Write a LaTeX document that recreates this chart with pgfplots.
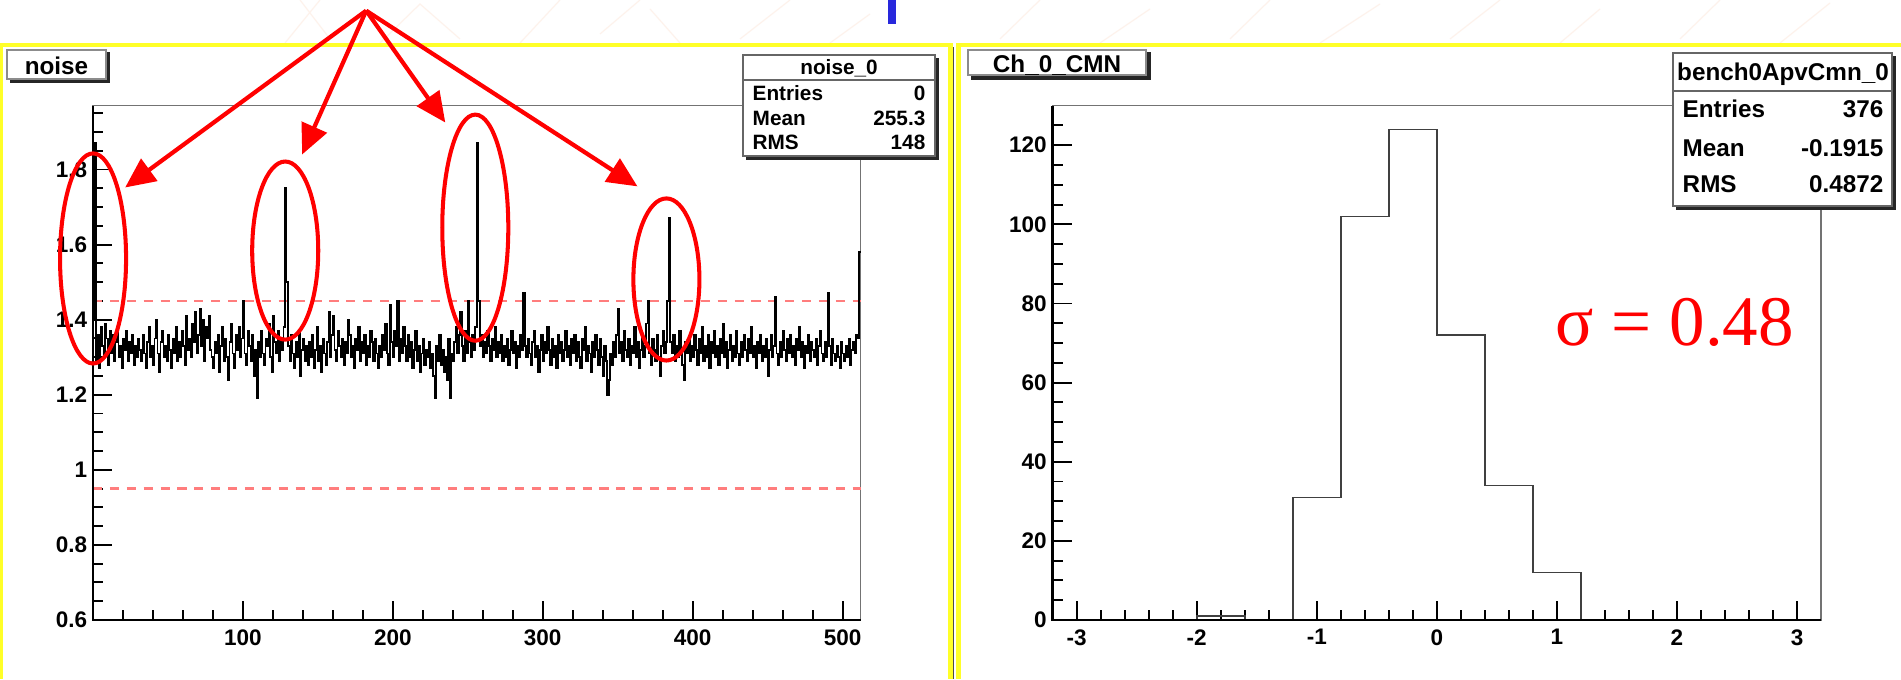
\documentclass[border=0pt]{standalone}
\usepackage{pgfplots}
\pgfplotsset{compat=1.18}
\usepackage{fontspec}
\setmainfont{Liberation Sans}
\newfontfamily\timesfont{Liberation Serif}
\usetikzlibrary{arrows.meta}

\definecolor{ylw}{RGB}{255,255,40}
\definecolor{dashred}{RGB}{255,125,125}
\definecolor{annred}{RGB}{255,0,0}
\definecolor{wmark}{RGB}{250,200,170}
\definecolor{titleblue}{RGB}{40,40,220}

\newcommand{\tickfont}{\bfseries\fontsize{6.4}{7}\selectfont}

\pgfplotsset{
  rootaxis/.style={
    scale only axis, anchor=south west, clip=false,
    axis line style={draw=black!55, line width=0.4pt},
    tick pos=left, tick align=inside,
    major tick length=0.19cm, minor tick length=0.1cm,
    tick style={black, line width=0.55pt},
    every tick label/.append style={font=\tickfont},
    /pgf/number format/assume math mode=true,
    yticklabel style={inner xsep=1.5pt},
    xticklabel style={inner ysep=2.5pt},
  },
}

\begin{document}
\begin{tikzpicture}[x=0.01cm,y=0.01cm]
\path[use as bounding box, fill=white] (0,0) rectangle (1901,679);

% faint slide background
\begin{scope}[draw=wmark, opacity=0.22, line width=0.35pt]
\draw (285,636) -- (320,679) (330,640) -- (300,679) (380,636) -- (420,675) -- (460,640);
\draw (520,636) -- (560,679) (600,645) -- (640,679) (680,636) -- (650,670) (740,640) -- (790,679);
\draw (830,636) -- (870,665) (1000,640) -- (1040,679) (1100,636) -- (1150,670) (1230,640) -- (1270,679);
\draw (1320,636) -- (1380,675) (1450,640) -- (1500,679) (1560,636) -- (1600,670) (1680,640) -- (1720,679) (1780,636) -- (1830,676);
\end{scope}
\fill[titleblue] (888,655) rectangle (896,679);

% yellow canvas frames
\fill[ylw] (0,632) rectangle (953,636);
\fill[ylw] (0,0) rectangle (3,636);
\fill[ylw] (948,0) rectangle (953,636);
\draw[black!70, line width=0.35pt] (953.5,0) -- (953.5,632);
\fill[ylw] (956,632) rectangle (1901,636);
\fill[ylw] (956,0) rectangle (961,636);

% ---------------- left: noise ----------------
\begin{axis}[rootaxis,
  at={(0.93cm,0.59cm)}, width=7.67cm, height=5.14cm,
  xmin=0, xmax=512, ymin=0.6, ymax=1.97,
  xtick={100,200,300,400,500}, xticklabels={100,200,300,400,500},
  minor xtick={20,40,60,80,120,140,160,180,220,240,260,280,320,340,360,380,420,440,460,480},
  ytick={0.6,0.8,1,1.2,1.4,1.6,1.8}, yticklabels={0.6,0.8,1,1.2,1.4,1.6,1.8},
  minor ytick={0.65,0.7,0.75,0.85,0.9,0.95,1.05,1.1,1.15,1.25,1.3,1.35,1.45,1.5,1.55,1.65,1.7,1.75,1.85,1.9,1.95},
]
\addplot[dashred, line width=0.65pt, dash pattern=on 2.6pt off 2.2pt] coordinates {(0,1.45) (512,1.45)};
\addplot[dashred, line width=0.65pt, dash pattern=on 2.6pt off 2.2pt] coordinates {(0,0.95) (512,0.95)};
\addplot[const plot, black, line width=0.5pt] coordinates {
(0,1.40)(1,1.87)(2,1.29)(3,1.36)(4,1.27)(5,1.38)(6,1.33)(7,1.30)(8,1.39)(9,1.35)(10,1.28)(11,1.37)(12,1.31)(13,1.36)(14,1.29)(15,1.34)
(16,1.38)(17,1.30)(18,1.33)(19,1.27)(20,1.35)(21,1.32)(22,1.37)(23,1.29)(24,1.34)(25,1.31)(26,1.36)(27,1.28)(28,1.33)(29,1.30)(30,1.35)(31,1.32)
(32,1.29)(33,1.36)(34,1.31)(35,1.27)(36,1.34)(37,1.38)(38,1.30)(39,1.33)(40,1.28)(41,1.35)(42,1.40)(43,1.31)(44,1.26)(45,1.34)(46,1.37)(47,1.30)
(48,1.33)(49,1.29)(50,1.36)(51,1.32)(52,1.27)(53,1.35)(54,1.31)(55,1.38)(56,1.29)(57,1.34)(58,1.30)(59,1.37)(60,1.33)(61,1.28)(62,1.41)(63,1.32)
(64,1.35)(65,1.30)(66,1.39)(67,1.34)(68,1.42)(69,1.31)(70,1.36)(71,1.43)(72,1.33)(73,1.40)(74,1.29)(75,1.38)(76,1.35)(77,1.41)(78,1.32)(79,1.30)
(80,1.27)(81,1.34)(82,1.31)(83,1.36)(84,1.26)(85,1.33)(86,1.38)(87,1.29)(88,1.35)(89,1.30)(90,1.24)(91,1.34)(92,1.39)(93,1.31)(94,1.27)(95,1.36)
(96,1.32)(97,1.38)(98,1.30)(99,1.35)(100,1.45)(101,1.31)(102,1.28)(103,1.37)(104,1.33)(105,1.29)(106,1.36)(107,1.25)(108,1.32)(109,1.19)(110,1.34)(111,1.30)
(112,1.37)(113,1.31)(114,1.28)(115,1.35)(116,1.33)(117,1.39)(118,1.30)(119,1.26)(120,1.41)(121,1.34)(122,1.31)(123,1.37)(124,1.29)(125,1.35)(126,1.32)(127,1.38)
(128,1.75)(129,1.50)(130,1.33)(131,1.29)(132,1.36)(133,1.31)(134,1.27)(135,1.34)(136,1.30)(137,1.37)(138,1.25)(139,1.32)(140,1.35)(141,1.29)(142,1.33)(143,1.28)
(144,1.34)(145,1.30)(146,1.36)(147,1.27)(148,1.32)(149,1.38)(150,1.29)(151,1.33)(152,1.26)(153,1.35)(154,1.31)(155,1.28)(156,1.34)(157,1.42)(158,1.30)(159,1.36)
(160,1.41)(161,1.32)(162,1.29)(163,1.37)(164,1.33)(165,1.30)(166,1.35)(167,1.28)(168,1.34)(169,1.31)(170,1.40)(171,1.36)(172,1.30)(173,1.33)(174,1.27)(175,1.35)
(176,1.32)(177,1.38)(178,1.29)(179,1.34)(180,1.31)(181,1.36)(182,1.28)(183,1.33)(184,1.30)(185,1.37)(186,1.34)(187,1.29)(188,1.35)(189,1.31)(190,1.27)(191,1.33)
(192,1.30)(193,1.36)(194,1.32)(195,1.39)(196,1.31)(197,1.28)(198,1.44)(199,1.34)(200,1.30)(201,1.37)(202,1.33)(203,1.45)(204,1.29)(205,1.35)(206,1.31)(207,1.38)
(208,1.33)(209,1.29)(210,1.36)(211,1.30)(212,1.34)(213,1.27)(214,1.32)(215,1.37)(216,1.29)(217,1.33)(218,1.26)(219,1.31)(220,1.35)(221,1.28)(222,1.32)(223,1.30)
(224,1.34)(225,1.27)(226,1.31)(227,1.25)(228,1.19)(229,1.33)(230,1.29)(231,1.36)(232,1.28)(233,1.32)(234,1.26)(235,1.30)(236,1.24)(237,1.35)(238,1.19)(239,1.31)
(240,1.29)(241,1.34)(242,1.38)(243,1.31)(244,1.36)(245,1.42)(246,1.33)(247,1.29)(248,1.37)(249,1.31)(250,1.45)(251,1.34)(252,1.30)(253,1.36)(254,1.32)(255,1.38)
(256,1.87)(257,1.45)(258,1.33)(259,1.36)(260,1.30)(261,1.34)(262,1.31)(263,1.37)(264,1.33)(265,1.29)(266,1.35)(267,1.32)(268,1.38)(269,1.30)(270,1.34)(271,1.31)
(272,1.36)(273,1.29)(274,1.33)(275,1.30)(276,1.35)(277,1.28)(278,1.32)(279,1.37)(280,1.31)(281,1.34)(282,1.27)(283,1.33)(284,1.30)(285,1.36)(286,1.32)(287,1.47)
(288,1.33)(289,1.30)(290,1.35)(291,1.31)(292,1.28)(293,1.34)(294,1.37)(295,1.30)(296,1.33)(297,1.26)(298,1.32)(299,1.36)(300,1.29)(301,1.34)(302,1.31)(303,1.38)
(304,1.32)(305,1.28)(306,1.35)(307,1.30)(308,1.33)(309,1.27)(310,1.36)(311,1.31)(312,1.34)(313,1.29)(314,1.32)(315,1.37)(316,1.30)(317,1.33)(318,1.28)(319,1.35)
(320,1.31)(321,1.36)(322,1.29)(323,1.34)(324,1.30)(325,1.27)(326,1.35)(327,1.32)(328,1.38)(329,1.29)(330,1.33)(331,1.31)(332,1.26)(333,1.34)(334,1.30)(335,1.36)
(336,1.32)(337,1.28)(338,1.35)(339,1.30)(340,1.25)(341,1.33)(342,1.29)(343,1.20)(344,1.24)(345,1.31)(346,1.28)(347,1.34)(348,1.30)(349,1.36)(350,1.43)(351,1.31)
(352,1.34)(353,1.29)(354,1.37)(355,1.32)(356,1.30)(357,1.35)(358,1.28)(359,1.33)(360,1.31)(361,1.38)(362,1.30)(363,1.34)(364,1.27)(365,1.32)(366,1.36)(367,1.30)
(368,1.33)(369,1.39)(370,1.45)(371,1.31)(372,1.28)(373,1.35)(374,1.32)(375,1.29)(376,1.36)(377,1.30)(378,1.25)(379,1.33)(380,1.37)(381,1.31)(382,1.34)(383,1.45)
(384,1.67)(385,1.34)(386,1.31)(387,1.36)(388,1.29)(389,1.33)(390,1.30)(391,1.37)(392,1.32)(393,1.28)(394,1.24)(395,1.34)(396,1.31)(397,1.35)(398,1.29)(399,1.33)
(400,1.30)(401,1.36)(402,1.32)(403,1.28)(404,1.35)(405,1.31)(406,1.38)(407,1.29)(408,1.33)(409,1.30)(410,1.36)(411,1.27)(412,1.34)(413,1.31)(414,1.37)(415,1.30)
(416,1.33)(417,1.28)(418,1.35)(419,1.31)(420,1.39)(421,1.30)(422,1.34)(423,1.27)(424,1.32)(425,1.36)(426,1.29)(427,1.33)(428,1.30)(429,1.37)(430,1.31)(431,1.28)
(432,1.34)(433,1.30)(434,1.36)(435,1.32)(436,1.29)(437,1.35)(438,1.31)(439,1.38)(440,1.30)(441,1.33)(442,1.27)(443,1.34)(444,1.31)(445,1.36)(446,1.29)(447,1.33)
(448,1.30)(449,1.35)(450,1.25)(451,1.32)(452,1.36)(453,1.30)(454,1.33)(455,1.46)(456,1.31)(457,1.28)(458,1.34)(459,1.30)(460,1.37)(461,1.32)(462,1.29)(463,1.35)
(464,1.31)(465,1.36)(466,1.30)(467,1.33)(468,1.28)(469,1.35)(470,1.32)(471,1.38)(472,1.30)(473,1.34)(474,1.27)(475,1.33)(476,1.31)(477,1.36)(478,1.29)(479,1.34)
(480,1.32)(481,1.30)(482,1.35)(483,1.28)(484,1.33)(485,1.37)(486,1.31)(487,1.29)(488,1.34)(489,1.30)(490,1.47)(491,1.33)(492,1.28)(493,1.35)(494,1.31)(495,1.29)
(496,1.33)(497,1.30)(498,1.27)(499,1.34)(500,1.31)(501,1.29)(502,1.33)(503,1.30)(504,1.35)(505,1.28)(506,1.32)(507,1.34)(508,1.31)(509,1.36)(510,1.35)(511,1.58)(512,1.58)
};
\draw[black, line width=0.7pt] (rel axis cs:0,1) -- (rel axis cs:0,0) -- (rel axis cs:1,0);
% annotations
\draw[annred, line width=1.15pt] (axis cs:0,1.563) ellipse [x radius=0.33cm, y radius=1.05cm];
\draw[annred, line width=1.15pt] (axis cs:128.2,1.584) ellipse [x radius=0.33cm, y radius=0.89cm];
\draw[annred, line width=1.15pt] (axis cs:255,1.645) ellipse [x radius=0.33cm, y radius=1.13cm];
\draw[annred, line width=1.15pt] (axis cs:382.5,1.507) ellipse [x radius=0.33cm, y radius=0.81cm];
\begin{scope}[annred, line width=1.2pt, -{Triangle[length=0.3cm,width=0.27cm]}]
\draw (axis cs:182.2,2.223) -- (axis cs:21.4,1.752);
\draw (axis cs:182.2,2.223) -- (axis cs:139.5,1.840);
\draw (axis cs:182.2,2.223) -- (axis cs:235,1.925);
\draw (axis cs:182.2,2.223) -- (axis cs:363.2,1.755);
\end{scope}
\end{axis}

% ---------------- right: Ch_0_CMN ----------------
\begin{axis}[rootaxis,
  at={(10.52cm,0.59cm)}, width=7.68cm, height=5.14cm,
  xmin=-3.2, xmax=3.2, ymin=0, ymax=130,
  xtick={-3,-2,-1,0,1,2,3}, xticklabels={-3,-2,-1,0,1,2,3},
  minor x tick num=4,
  ytick={0,20,40,60,80,100,120}, yticklabels={0,20,40,60,80,100,120},
  minor ytick={5,10,15,25,30,35,45,50,55,65,70,75,85,90,95,105,110,115,125},
]
\addplot[const plot, black!75, line width=0.45pt] coordinates {
(-3.2,0) (-2.0,1) (-1.6,0) (-1.2,31) (-0.8,102) (-0.4,124) (0,72) (0.4,34) (0.8,12) (1.2,0) (3.2,0)
};
\draw[black, line width=0.7pt] (rel axis cs:0,1) -- (rel axis cs:0,0) -- (rel axis cs:1,0);
\end{axis}

% ---------------- title boxes ----------------
\fill[black!85] (10,596) rectangle (110,600);
\fill[black!85] (106,596) rectangle (110,627);
\filldraw[fill=white, draw=black!45, line width=0.35pt] (7,600) rectangle (106,629);
\node[font=\bfseries\fontsize{6.9}{8}\selectfont, inner sep=0] at (56.5,613) {noise};

\fill[black!85] (971,599) rectangle (1151,604);
\fill[black!85] (1146,599) rectangle (1151,627);
\filldraw[fill=white, draw=black!45, line width=0.35pt] (968,604) rectangle (1146,629);
\node[font=\bfseries\fontsize{6.9}{8}\selectfont, inner sep=0] at (1057,614) {Ch\_0\_CMN};

% ---------------- stats boxes ----------------
\fill[black!85] (746,519) rectangle (939,523);
\fill[black!85] (935,519) rectangle (939,621);
\filldraw[fill=white, draw=black!60, line width=0.4pt] (743,523) rectangle (935,624);
\draw[black!60, line width=0.4pt] (743,599) -- (935,599);
\begin{scope}[font=\bfseries\fontsize{5.9}{7}\selectfont, inner sep=0]
\node at (839,611) {noise\_0};
\node[anchor=west] at (752,586) {Entries};
\node[anchor=east] at (926,586) {0};
\node[anchor=west] at (752,561) {Mean};
\node[anchor=east] at (926,561) {255.3};
\node[anchor=west] at (752,537) {RMS};
\node[anchor=east] at (926,537) {148};
\end{scope}

\fill[black!85] (1676,469) rectangle (1896,473);
\fill[black!85] (1892,469) rectangle (1896,623);
\filldraw[fill=white, draw=black!60, line width=0.4pt] (1673,473) rectangle (1892,626);
\draw[black!60, line width=0.4pt] (1673,588) -- (1892,588);
\begin{scope}[font=\bfseries\fontsize{6.9}{8}\selectfont, inner sep=0]
\node at (1783,605) {bench0ApvCmn\_0};
\node[anchor=west] at (1682,570) {Entries};
\node[anchor=east] at (1884,570) {376};
\node[anchor=west] at (1682,531) {Mean};
\node[anchor=east] at (1884,531) {-0.1915};
\node[anchor=west] at (1682,495) {RMS};
\node[anchor=east] at (1884,495) {0.4872};
\end{scope}

% sigma annotation
\node[anchor=base west, inner sep=0, text=annred, font=\timesfont\fontsize{20.2}{24}\selectfont] at (1555,333) {σ = 0.48};
\end{tikzpicture}
\end{document}
